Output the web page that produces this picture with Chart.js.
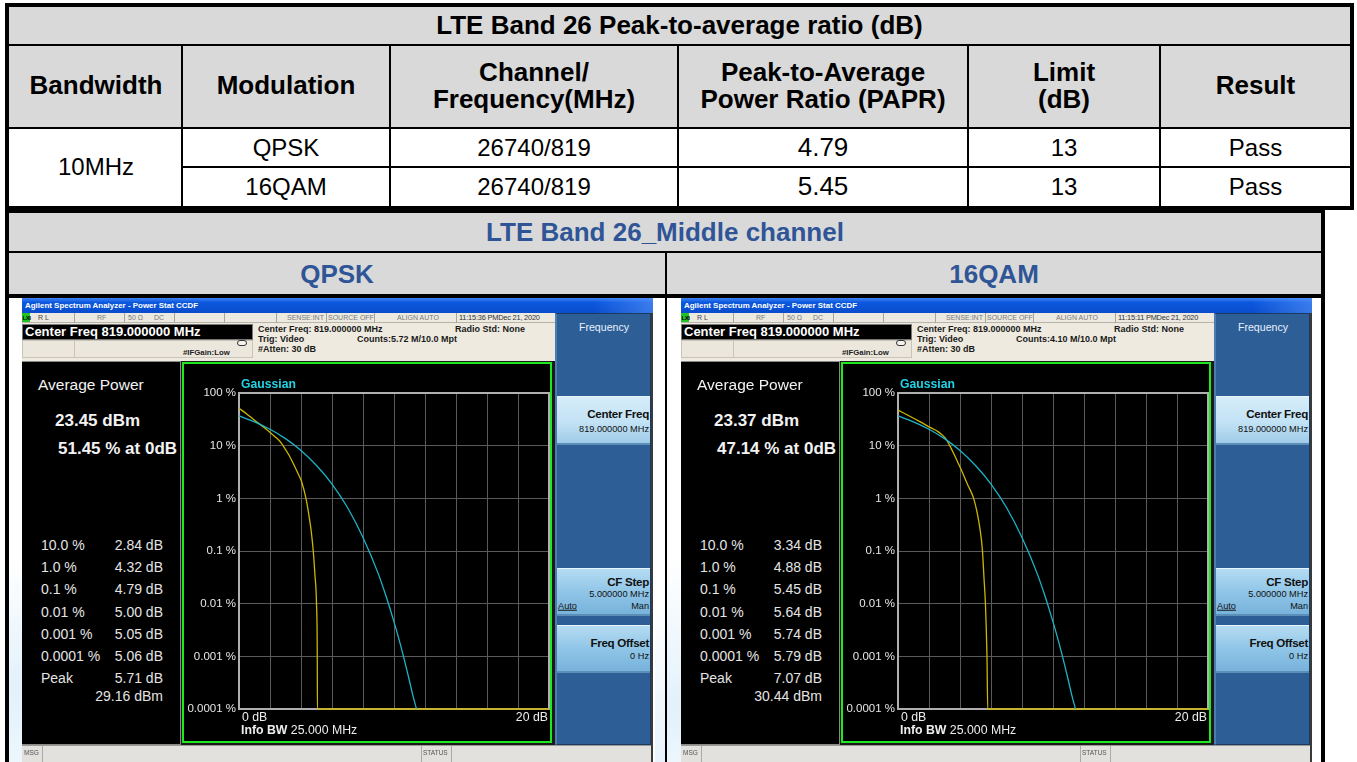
<!DOCTYPE html>
<html><head><meta charset="utf-8">
<script src="https://cdn.jsdelivr.net/npm/chart.js@4.4.1/dist/chart.umd.min.js"></script>
<style>
html,body{margin:0;padding:0;width:1357px;height:762px;overflow:hidden;background:#fff;font-family:"Liberation Sans",Arial,sans-serif;}
#root{position:absolute;left:0;top:0;width:1357px;height:762px;overflow:hidden;}
</style></head><body>
<div id="root"></div>
<script>
// ---------- data ----------
const tableTitle = 'LTE Band 26 Peak-to-average ratio (dB)';
const headers = [['Bandwidth'],['Modulation'],['Channel/','Frequency(MHz)'],['Peak-to-Average','Power Ratio (PAPR)'],['Limit','(dB)'],['Result']];
const bandwidth = '10MHz';
const modulations = ['QPSK','16QAM'];
const channels = ['26740/819','26740/819'];
const paprValues = ['4.79','5.45'];
const limits = ['13','13'];
const results = ['Pass','Pass'];
const sectionTitle = 'LTE Band 26_Middle channel';

const screenTitle = 'Agilent Spectrum Analyzer - Power Stat CCDF';
const times = ['11:15:36 PMDec 21, 2020','11:15:11 PMDec 21, 2020'];
const counts = ['Counts:5.72 M/10.0 Mpt','Counts:4.10 M/10.0 Mpt'];
const avgPower = ['23.45 dBm','23.37 dBm'];
const pctAt0 = ['51.45 % at 0dB','47.14 % at 0dB'];
const statLabels = ['10.0 %','1.0 %','0.1 %','0.01 %','0.001 %','0.0001 %','Peak'];
const qpskStats = ['2.84 dB','4.32 dB','4.79 dB','5.00 dB','5.05 dB','5.06 dB','5.71 dB'];
const qamStats  = ['3.34 dB','4.88 dB','5.45 dB','5.64 dB','5.74 dB','5.79 dB','7.07 dB'];
const peakDbm = ['29.16 dBm','30.44 dBm'];

const yTickValues = [100,10,1,0.1,0.01,0.001,0.0001];
const yTickLabels = ['100 %','10 %','1 %','0.1 %','0.01 %','0.001 %','0.0001 %'];

// Gaussian reference curve
const gaussDb  = [0,1,2,3,4,5,6,7,8,9,9.5,10,10.5,11,11.2,11.45];
const gaussPct = [36.8,28.4,20.5,13.6,8.1,4.2,1.87,0.67,0.18,0.036,0.0135,0.0045,0.00134,0.00034,0.00019,0.0001];
// QPSK measured curve
const qpskDb  = [0,0.5,1.0,1.68,2.3,2.65,2.84,3.2,3.5,3.8,4.04,4.32,4.5,4.65,4.79,4.9,5.0,5.05,5.06,20];
const qpskPct = [51.45,40,30.5,21.4,15,12,10,6.8,4.6,3.0,2.07,1.0,0.5,0.25,0.1,0.035,0.01,0.001,0.0001,0.0001];
// 16QAM measured curve
const qamDb  = [0,0.7,1.41,2.1,2.6,2.95,3.14,3.34,3.6,3.89,4.2,4.5,4.88,5.1,5.3,5.45,5.55,5.64,5.74,5.79,20];
const qamPct = [47.14,37,28.6,22,18.3,15,12.8,10,7,4.6,2.9,1.8,1.0,0.55,0.25,0.1,0.03,0.01,0.001,0.0001,0.0001];

// ---------- helpers ----------
const root = document.getElementById('root');
function box(p,x,y,w,h,css){const d=document.createElement('div');d.style.cssText=`position:absolute;left:${x}px;top:${y}px;width:${w}px;height:${h}px;box-sizing:border-box;${css||''}`;p.appendChild(d);return d;}
function txt(p,s,x,y,size,css,align){const d=document.createElement('div');const tx=align==='center'?'-50%':align==='right'?'-100%':'0';d.style.cssText=`position:absolute;left:${x}px;top:${y}px;transform:translate(${tx},-50%);white-space:nowrap;line-height:1.15;font-size:${size}px;${css||''}`;d.textContent=s;p.appendChild(d);return d;}

// ---------- top table ----------
box(root,5,3,1349,207,'border:4px solid #000;background:#fff');
box(root,9,7,1341,121,'background:#d9d9d9');
box(root,9,44,1341,2,'background:#000');
box(root,9,127,1341,2,'background:#000');
box(root,182,166,1168,2,'background:#000');
const colEdges=[9,181,389,677,967,1159,1350];
for(let i=1;i<6;i++) box(root,colEdges[i],45,2,162,'background:#000');
txt(root,tableTitle,679.5,25.5,26,'font-weight:bold','center');
headers.forEach((h,i)=>{
  const cx=(colEdges[i]+colEdges[i+1]+2)/2;
  if(h.length===1) txt(root,h[0],cx,86,26,'font-weight:bold','center');
  else {txt(root,h[0],cx,73,26,'font-weight:bold','center');txt(root,h[1],cx,99.5,26,'font-weight:bold','center');}
});
const cxs=colEdges.slice(0,6).map((e,i)=>(e+colEdges[i+1]+2)/2);
txt(root,bandwidth,cxs[0],167,24,'','center');
const rowY=[147.5,186.5];
for(let r=0;r<2;r++){
  txt(root,modulations[r],cxs[1],rowY[r],24,'','center');
  txt(root,channels[r],cxs[2],rowY[r],24,'','center');
  txt(root,paprValues[r],cxs[3],rowY[r],26,'','center');
  txt(root,limits[r],cxs[4],rowY[r],24,'','center');
  txt(root,results[r],cxs[5],rowY[r],24,'','center');
}

// ---------- second table ----------
box(root,5,209,1320,600,'border:4px solid #000;background:#fff');
box(root,9,213,1312,82,'background:#d9d9d9');
box(root,9,251,1312,2,'background:#000');
box(root,9,294,1312,4,'background:#000');
box(root,665,252,2,520,'background:#000');
// faint watermark tint in the gutters
box(root,9,560,13,210,'background:linear-gradient(160deg,#fff 0%,#e3f1fb 60%,#eef7fd 100%)');
box(root,655,600,10,170,'background:linear-gradient(160deg,#fff 0%,#e6f2fb 100%)');
box(root,667,560,14,210,'background:linear-gradient(160deg,#fff 0%,#e3f1fb 70%,#eef7fd 100%)');
txt(root,sectionTitle,665,232.5,26,'font-weight:bold;color:#2f5597','center');
txt(root,modulations[0],337,274.5,26,'font-weight:bold;color:#2f5597','center');
txt(root,modulations[1],994,274.5,26,'font-weight:bold;color:#2f5597','center');

// ---------- analyzer screenshots ----------
Chart.defaults.font.family='"Liberation Sans", Arial, sans-serif';
const framePlugin={id:'frame',beforeDatasetsDraw(c){const a=c.chartArea,x=c.ctx;x.save();x.strokeStyle='#b0b0b0';x.lineWidth=2;x.strokeRect(a.left,a.top,a.right-a.left,a.bottom-a.top);x.restore();}};

function pts(xs,ys){return xs.map((v,i)=>({x:v,y:ys[i]}));}

function buildScreen(X0,W,k,stats,curveDb,curvePct){
  const s=box(root,X0,298,W,464,'background:#1a1a1a;overflow:hidden');
  // title bar
  box(s,0,0,W,15,'background:linear-gradient(180deg,#3f83f5 0%,#0b58de 30%,#0a4ccc 100%)');
  box(s,W-60,0,60,15,'background:linear-gradient(90deg,rgba(90,150,250,0),rgba(90,150,250,0.6))');
  txt(s,screenTitle,3,7.5,7.95,'color:#fff;font-weight:bold;');
  // status strip
  box(s,0,15,533,10,'background:#ece9e1;border-bottom:1px solid #b7b3a8');
  box(s,0,15,8,9,'background:#22c322;');
  txt(s,'LXI',0.5,19.7,6,'color:#000;font-weight:bold;letter-spacing:-0.5px');
  [52,102,152,202,254,304,352,434].forEach(x=>box(s,x,15,1,10,'background:#a9a59b'));
  const sc='color:#7a7a7a;';
  txt(s,'R L',16,20,7,'color:#444');
  txt(s,'RF',75,20,7,sc);
  txt(s,'50 Ω',106,20,7,sc);
  txt(s,'DC',132,20,7,sc);
  txt(s,'SENSE:INT',265,20,7,sc);
  txt(s,'SOURCE OFF',306,20,7,sc);
  txt(s,'ALIGN AUTO',375,20,7,sc);
  txt(s,times[k],437,20,7.4,'color:#333;letter-spacing:-0.2px');
  // beige info area
  box(s,0,25,533,38,'background:#eeeae0');
  box(s,0,42,231,18,'background:#ebe7dc;border:1px solid #c9c4b6');
  box(s,52,42,1,18,'background:#c9c4b6');
  box(s,0,26,231,16,'background:#000;border:1px solid #777');
  txt(s,'Center Freq 819.000000 MHz',3,34,13,'color:#fff;font-weight:bold;');
  box(s,215,42,10,6,'border:1px solid #333;border-radius:3px;background:#f4f2ec');
  txt(s,'#IFGain:Low',161,55,7.8,'color:#222;font-weight:bold;');
  const ic='color:#1a1a1a;font-weight:bold;';
  txt(s,'Center Freq: 819.000000 MHz',236,31,9,ic);
  txt(s,'Radio Std: None',433,31,9,ic);
  txt(s,'Trig: Video',236,41,9,ic);
  txt(s,counts[k],335,41,9,ic);
  txt(s,'#Atten: 30 dB',236,51,9,ic);
  // right softkey panel
  const rp=box(s,533,15,96,432,'background:#2d5f96;border:1px solid #1b3a60;border-left:2px solid #4c7cb0');
  txt(rp,'Frequency',47,13,10.6,'color:#e8f0ff;','center');
  function button(y,h,shade){const b=box(rp,0,y,93,h,`background:linear-gradient(180deg,${shade[0]} 0%,${shade[1]} 55%,${shade[2]} 100%);border-bottom:2px solid #5c8fb8;border-top:1px solid #e6f4fc`);return b;}
  const b1=button(82,49,['#d6edf9','#c2e2f5','#9fcbe8']);
  txt(b1,'Center Freq',92,17,11.6,'font-weight:bold;color:#111;letter-spacing:-0.3px','right');
  txt(b1,'819.000000 MHz',92,32,9.2,'color:#111;','right');
  const b2=button(254,48,['#b5dcf2','#8dc3e6','#78b3db']);
  txt(b2,'CF Step',92,13,11.6,'font-weight:bold;color:#111;letter-spacing:-0.3px','right');
  txt(b2,'5.000000 MHz',92,25,9.2,'color:#111;','right');
  txt(b2,'Auto',1,37,9.2,'color:#111;text-decoration:underline;');
  txt(b2,'Man',92,37,9.2,'color:#111;','right');
  const b3=button(311,48,['#b5dcf2','#8dc3e6','#78b3db']);
  txt(b3,'Freq Offset',92,17,11.6,'font-weight:bold;color:#111;letter-spacing:-0.3px','right');
  txt(b3,'0 Hz',92,30,9.2,'color:#111;','right');
  // left data panel
  const dp=box(s,-2,63,161,384,'background:#000;border:1px solid #8a8a8a');
  const wc='color:#f2f2f2;';
  txt(dp,'Average Power',17,23,15.5,wc);
  txt(dp,avgPower[k],34,59,17,wc+'font-weight:bold;');
  txt(dp,pctAt0[k],37,87,17,wc+'font-weight:bold;');
  const rowYs=[183,205,227,249.5,271.5,294,316];
  statLabels.forEach((l,i)=>{
    txt(dp,l,20,rowYs[i],14,'color:#e4e4e4;');
    txt(dp,stats[i],142,rowYs[i],14,'color:#e4e4e4;','right');
  });
  txt(dp,peakDbm[k],142,334,14,'color:#e4e4e4;','right');
  // chart panel
  const cp=box(s,160,64,370,381,'background:#000;border:2px solid #1fe81f');
  const cv=document.createElement('canvas');
  cv.width=366;cv.height=377;cv.style.cssText='position:absolute;left:0;top:0;width:366px;height:377px;';
  cp.appendChild(cv);
  txt(cp,'Gaussian',57,20,12.2,'color:#22d3e6;font-weight:bold;');
  txt(cp,'0 dB',58,353,12.3,'color:#eee;');
  txt(cp,'20 dB',364,353,12.3,'color:#eee;','right');
  const ib=txt(cp,'',57,366,12.3,'color:#eee;');
  ib.innerHTML='<b>Info BW</b> 25.000 MHz';
  // status bar
  box(s,0,447,W-2,17,'background:#e3e1de;border-top:1px solid #9c9a96');
  box(s,20,448,1,16,'background:#aaa');
  box(s,399,448,1,16,'background:#aaa');
  box(s,429,448,1,16,'background:#aaa');
  txt(s,'MSG',2,455,6.5,'color:#555;');
  txt(s,'STATUS',401,455,6.5,'color:#555;');
  // right dark edge
  box(s,W-2,15,2,449,'background:#3a3a3a');

  new Chart(cv,{
    type:'line',
    data:{datasets:[
      {label:'Gaussian',data:pts(gaussDb,gaussPct),borderColor:'#1cb4c8',borderWidth:1.3,pointRadius:0,cubicInterpolationMode:'monotone',clip:4},
      {label:'Measured',data:pts(curveDb,curvePct),borderColor:'#cdb600',borderWidth:1.3,pointRadius:0,cubicInterpolationMode:'monotone',clip:4}
    ]},
    options:{
      responsive:false,animation:false,devicePixelRatio:1,
      layout:{padding:{left:0,right:1,top:29,bottom:32}},
      plugins:{legend:{display:false},tooltip:{enabled:false}},
      scales:{
        x:{type:'linear',min:0,max:20,afterFit:a=>{a.height=0;},
           ticks:{display:false,stepSize:2},grid:{color:'#5a5a5a',lineWidth:1,drawTicks:false},border:{display:false}},
        y:{type:'logarithmic',min:0.0001,max:100,
           afterBuildTicks:a=>{a.ticks=yTickValues.slice().reverse().map(v=>({value:v}));},
           afterFit:a=>{a.width=55;},
           ticks:{color:'#e6e6e6',font:{size:11.5},padding:3,
             callback:v=>{const i=yTickValues.findIndex(t=>Math.abs(Math.log10(t)-Math.log10(v))<1e-6);return i>=0?yTickLabels[i]:'';}},
           grid:{color:'#5a5a5a',lineWidth:1,drawTicks:false},border:{display:false}}
      }
    },
    plugins:[framePlugin]
  });
}
buildScreen(22,631,0,qpskStats,qpskDb,qpskPct);
buildScreen(681,631,1,qamStats,qamDb,qamPct);
</script>
</body></html>
